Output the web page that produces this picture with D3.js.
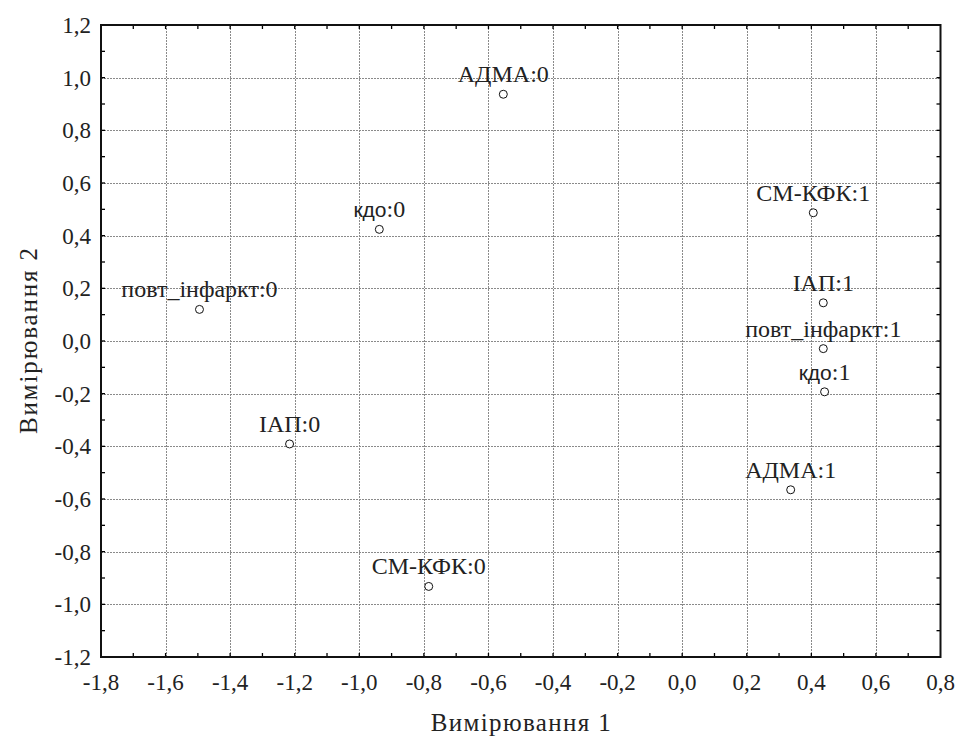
<!DOCTYPE html>
<html>
<head>
<meta charset="utf-8">
<script src="https://cdn.jsdelivr.net/npm/d3@7"></script>
<style>
  html, body { margin: 0; padding: 0; background: #fff; }
  svg { display: block; }
</style>
</head>
<body>
<svg id="chart" width="957" height="737"></svg>
<script>
// ---- data ----
const labels = ["АДМА:0", "кдо:0", "повт_інфаркт:0", "ІАП:0", "СМ-КФК:0",
                "СМ-КФК:1", "ІАП:1", "повт_інфаркт:1", "кдо:1", "АДМА:1"];
const dim1 = [-0.554, -0.938, -1.495, -1.216, -0.785, 0.406, 0.437, 0.437, 0.441, 0.336];
const dim2 = [0.937, 0.424, 0.120, -0.391, -0.932, 0.487, 0.145, -0.029, -0.193, -0.565];
const xTicks = [-1.8, -1.6, -1.4, -1.2, -1.0, -0.8, -0.6, -0.4, -0.2, 0.0, 0.2, 0.4, 0.6, 0.8];
const yTicks = [-1.2, -1.0, -0.8, -0.6, -0.4, -0.2, 0.0, 0.2, 0.4, 0.6, 0.8, 1.0, 1.2];
const xTitle = "Вимірювання 1";
const yTitle = "Вимірювання 2";

// ---- layout ----
const L = 101, R = 940.5, T = 25, B = 657;
const serif = "Liberation Serif";
const sans = "Liberation Sans";

const svg = d3.select("#chart");
const x = d3.scaleLinear().domain([-1.8, 0.8]).range([L, R]);
const y = d3.scaleLinear().domain([-1.2, 1.2]).range([B, T]);
const fmt = v => d3.format(".1f")(v).replace(".", ",").replace("−", "-");

const minorX = d3.range(-17, 8, 1).map(i => i / 10);
const minorY = d3.range(-11, 12, 1).map(i => i / 10);

// grid
const grid = svg.append("g").attr("stroke", "#8a8a8a").attr("stroke-width", 1)
  .attr("stroke-dasharray", "2,1").attr("shape-rendering", "crispEdges");
grid.selectAll("line.gx").data(xTicks.slice(1, -1)).join("line")
  .attr("x1", d => Math.round(x(d)) + 0.5).attr("x2", d => Math.round(x(d)) + 0.5)
  .attr("y1", T).attr("y2", B);
grid.selectAll("line.gy").data(yTicks.slice(1, -1)).join("line")
  .attr("y1", d => Math.round(y(d)) + 0.5).attr("y2", d => Math.round(y(d)) + 0.5)
  .attr("x1", L).attr("x2", R);

// inward ticks on all sides (every 0.1)
const tk = svg.append("g").attr("stroke", "#000").attr("stroke-width", 1.3);
const tl = 4;
tk.selectAll("line.bt").data(minorX).join("line")
  .attr("x1", d => x(d)).attr("x2", d => x(d)).attr("y1", B).attr("y2", B - tl);
tk.selectAll("line.tt").data(minorX).join("line")
  .attr("x1", d => x(d)).attr("x2", d => x(d)).attr("y1", T).attr("y2", T + tl);
tk.selectAll("line.lt").data(minorY).join("line")
  .attr("y1", d => y(d)).attr("y2", d => y(d)).attr("x1", L).attr("x2", L + tl);
tk.selectAll("line.rt").data(minorY).join("line")
  .attr("y1", d => y(d)).attr("y2", d => y(d)).attr("x1", R).attr("x2", R - tl);

// frame
svg.append("rect").attr("x", L).attr("y", T).attr("width", R - L).attr("height", B - T)
  .attr("fill", "none").attr("stroke", "#111").attr("stroke-width", 2);

// tick labels
svg.append("g").selectAll("text").data(xTicks).join("text")
  .attr("x", d => x(d)).attr("y", B + 33)
  .attr("text-anchor", "middle")
  .attr("font-family", serif).attr("font-size", 23).attr("fill", "#222")
  .text(fmt);
svg.append("g").selectAll("text").data(yTicks).join("text")
  .attr("x", L - 10).attr("y", d => y(d) + 8)
  .attr("text-anchor", "end")
  .attr("font-family", serif).attr("font-size", 23).attr("fill", "#222")
  .text(fmt);

// axis titles
svg.append("text").attr("x", (L + R) / 2).attr("y", 731)
  .attr("text-anchor", "middle").attr("font-family", serif).attr("font-size", 25).attr("fill", "#222")
  .attr("textLength", 180).attr("lengthAdjust", "spacing")
  .text(xTitle);
svg.append("text").attr("transform", `translate(37,${(T + B) / 2}) rotate(-90)`)
  .attr("text-anchor", "middle").attr("font-family", serif).attr("font-size", 25).attr("fill", "#222")
  .attr("textLength", 186).attr("lengthAdjust", "spacing")
  .text(yTitle);

// points
const pts = labels.map((l, i) => ({ label: l, a: dim1[i], b: dim2[i] }));
const g = svg.append("g");
g.selectAll("circle").data(pts).join("circle")
  .attr("cx", d => x(d.a)).attr("cy", d => y(d.b)).attr("r", 4)
  .attr("fill", "#fff").attr("stroke", "#111").attr("stroke-width", 1);

// labels (the "кдо" part is drawn in a sans face as in the reference)
const lab = g.selectAll("text").data(pts).join("text")
  .attr("x", d => x(d.a)).attr("y", d => y(d.b) - 12)
  .attr("text-anchor", "middle").attr("font-family", serif).attr("font-size", 24).attr("fill", "#222");
lab.each(function(d) {
  const t = d3.select(this);
  if (d.label.startsWith("кдо")) {
    t.append("tspan").attr("font-family", sans).attr("font-size", 21).text("кдо");
    t.append("tspan").text(d.label.slice(3));
  } else {
    t.text(d.label);
  }
});
</script>
</body>
</html>
